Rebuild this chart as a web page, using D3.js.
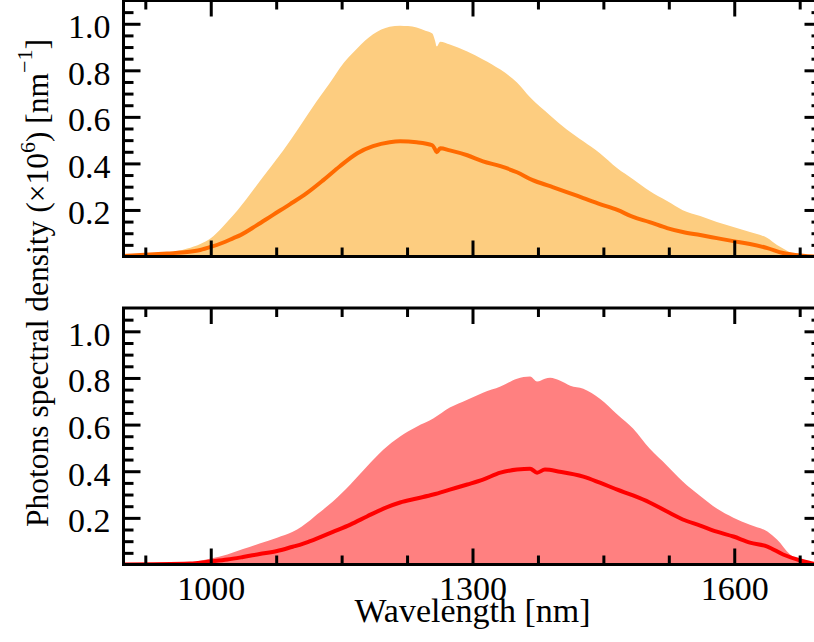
<!DOCTYPE html>
<html>
<head>
<meta charset="utf-8">
<script src="https://cdn.jsdelivr.net/npm/d3@7"></script>
<style>
  body { margin: 0; background: #fff; }
  svg { display: block; font-family: "Liberation Serif", "Times New Roman", serif; }
</style>
</head>
<body>
<svg id="chart" width="814" height="642"></svg>
<script>
// ---- data (wavelength in nm, density x1e6 per nm) ----
const topFillWl = [900, 925, 950, 973, 988, 1000, 1013, 1026, 1045, 1064, 1083, 1102, 1121, 1140, 1148, 1168, 1186, 1205, 1217, 1226, 1236, 1246, 1254, 1257, 1259, 1263, 1274, 1294, 1312, 1332, 1351, 1366, 1389, 1408, 1427, 1446, 1466, 1484, 1503, 1523, 1541, 1561, 1580, 1599, 1618, 1638, 1649, 1661, 1672, 1687, 1700];
const topFill   = [0.001, 0.004, 0.015, 0.034, 0.054, 0.078, 0.125, 0.178, 0.268, 0.362, 0.456, 0.559, 0.665, 0.765, 0.81, 0.895, 0.955, 0.987, 0.992, 0.99, 0.984, 0.97, 0.958, 0.928, 0.903, 0.923, 0.911, 0.881, 0.847, 0.803, 0.748, 0.684, 0.606, 0.546, 0.495, 0.444, 0.379, 0.332, 0.281, 0.238, 0.199, 0.174, 0.148, 0.127, 0.105, 0.079, 0.049, 0.024, 0.006, 0.0, 0.0];

const topLineWl = [900, 950, 973, 988, 1000, 1013, 1026, 1034, 1053, 1071, 1091, 1110, 1129, 1148, 1168, 1186, 1205, 1217, 1236, 1254, 1257, 1259, 1263, 1274, 1294, 1312, 1332, 1351, 1369, 1389, 1408, 1427, 1446, 1466, 1484, 1503, 1523, 1541, 1561, 1580, 1599, 1618, 1638, 1656, 1676, 1693, 1700];
const topLine   = [0.002, 0.013, 0.019, 0.028, 0.041, 0.058, 0.079, 0.092, 0.135, 0.178, 0.225, 0.272, 0.328, 0.388, 0.444, 0.474, 0.491, 0.495, 0.491, 0.478, 0.461, 0.448, 0.465, 0.456, 0.435, 0.409, 0.388, 0.362, 0.328, 0.302, 0.277, 0.251, 0.225, 0.2, 0.17, 0.148, 0.122, 0.105, 0.092, 0.079, 0.066, 0.054, 0.036, 0.015, 0.004, 0.0, 0.0];

const botFillWl = [900, 950, 976, 1000, 1019, 1037, 1056, 1076, 1094, 1114, 1122, 1140, 1160, 1179, 1198, 1217, 1236, 1255, 1274, 1294, 1312, 1332, 1351, 1366, 1374, 1383, 1389, 1400, 1412, 1427, 1446, 1466, 1484, 1503, 1523, 1541, 1561, 1580, 1599, 1618, 1638, 1649, 1664, 1676, 1687, 1700];
const botFill   = [0.0, 0.002, 0.009, 0.026, 0.043, 0.066, 0.09, 0.115, 0.14, 0.19, 0.215, 0.27, 0.343, 0.42, 0.493, 0.549, 0.591, 0.626, 0.673, 0.707, 0.737, 0.763, 0.797, 0.806, 0.785, 0.797, 0.801, 0.789, 0.767, 0.754, 0.711, 0.643, 0.583, 0.497, 0.424, 0.356, 0.294, 0.24, 0.201, 0.171, 0.141, 0.107, 0.043, 0.017, 0.002, 0.0];

const botLineWl = [900, 976, 1000, 1019, 1037, 1056, 1076, 1094, 1102, 1114, 1140, 1160, 1179, 1198, 1217, 1236, 1255, 1274, 1294, 1312, 1332, 1351, 1366, 1374, 1383, 1400, 1427, 1446, 1466, 1484, 1503, 1523, 1541, 1561, 1580, 1599, 1618, 1638, 1656, 1676, 1693, 1700];
const botLine   = [0.0, 0.004, 0.013, 0.021, 0.032, 0.045, 0.058, 0.076, 0.084, 0.1, 0.14, 0.171, 0.206, 0.24, 0.266, 0.283, 0.3, 0.321, 0.343, 0.364, 0.394, 0.407, 0.411, 0.394, 0.407, 0.398, 0.377, 0.351, 0.321, 0.296, 0.266, 0.227, 0.193, 0.167, 0.141, 0.12, 0.094, 0.077, 0.043, 0.017, 0.002, 0.0];

const xMajorTicks = [1000, 1300, 1600];
const xMinorTicks = [925, 1075, 1150, 1225, 1375, 1450, 1525, 1675];
const yMajorTicks = [0.2, 0.4, 0.6, 0.8, 1.0];
const yMinorTicks = [0.05, 0.1, 0.15, 0.25, 0.3, 0.35, 0.45, 0.5, 0.55, 0.65, 0.7, 0.75, 0.85, 0.9, 0.95, 1.05];

const svg = d3.select("#chart");
const x = d3.scaleLinear().domain([900, 1700]).range([123.5, 821.5]);

const panels = [
  { id: "top", fillWl: topFillWl, fill: topFill, lineWl: topLineWl, line: topLine,
    fillColor: "#fdcd80", lineColor: "#ff6a00", yRange: [256.5, 0.5], xLabels: false },
  { id: "bot", fillWl: botFillWl, fill: botFill, lineWl: botLineWl, line: botLine,
    fillColor: "#ff8080", lineColor: "#ff0000", yRange: [564.5, 308], xLabels: true }
];

panels.forEach(p => {
  const y = d3.scaleLinear().domain([0, 1.1]).range(p.yRange);
  const x0 = x.range()[0], x1 = x.range()[1];
  const yb = p.yRange[0], yt = p.yRange[1];

  svg.append("clipPath").attr("id", "clip-" + p.id)
    .append("rect").attr("x", x0).attr("y", yt).attr("width", x1 - x0).attr("height", yb - yt);

  const g = svg.append("g").attr("clip-path", `url(#clip-${p.id})`);

  const fillData = p.fillWl.map((w, i) => ({ wl: w, v: p.fill[i] }));
  const lineData = p.lineWl.map((w, i) => ({ wl: w, v: p.line[i] }));

  g.append("path").datum(fillData)
    .attr("fill", p.fillColor)
    .attr("d", d3.area().curve(d3.curveMonotoneX).x(d => x(d.wl)).y0(y(0)).y1(d => y(d.v)));

  g.append("path").datum(lineData)
    .attr("fill", "none")
    .attr("stroke", p.lineColor)
    .attr("stroke-width", 4)
    .attr("stroke-linejoin", "round")
    .attr("d", d3.line().curve(d3.curveMonotoneX).x(d => x(d.wl)).y(d => y(d.v)));

  // ticks, all pointing inward
  const addAxis = (axis, tx, ty) => {
    const a = svg.append("g").attr("transform", `translate(${tx},${ty})`).call(axis)
      .attr("font-family", null).attr("font-size", null);
    a.select(".domain").remove();
    a.selectAll(".tick line").attr("stroke", "#000").attr("stroke-width", 3);
    a.selectAll(".tick text").attr("fill", "#000").style("font-size", "34px");
    return a;
  };

  const xb = d3.axisBottom(x).tickValues(xMajorTicks).tickSize(-16).tickPadding(11)
    .tickFormat(p.xLabels ? d3.format("d") : "");
  addAxis(xb, 0, yb);
  addAxis(d3.axisBottom(x).tickValues(xMinorTicks).tickSize(-9).tickFormat(""), 0, yb);
  addAxis(d3.axisTop(x).tickValues(xMajorTicks).tickSize(-16).tickFormat(""), 0, yt);
  addAxis(d3.axisTop(x).tickValues(xMinorTicks).tickSize(-9).tickFormat(""), 0, yt);

  const yl = addAxis(d3.axisLeft(y).tickValues(yMajorTicks).tickSize(-17).tickPadding(13)
    .tickFormat(d3.format(".1f")), x0, 0);
  yl.selectAll(".tick text").attr("dy", "0.41em");
  addAxis(d3.axisLeft(y).tickValues(yMinorTicks).tickSize(-10).tickFormat(""), x0, 0);
  addAxis(d3.axisRight(y).tickValues(yMajorTicks).tickSize(-17).tickFormat(""), x1, 0);
  addAxis(d3.axisRight(y).tickValues(yMinorTicks).tickSize(-10).tickFormat(""), x1, 0);

  svg.append("rect")
    .attr("x", x0).attr("y", yt).attr("width", x1 - x0).attr("height", yb - yt)
    .attr("fill", "none").attr("stroke", "#000").attr("stroke-width", 3);
});

// axis titles
svg.append("text")
  .attr("x", 472.5).attr("y", 622)
  .attr("text-anchor", "middle")
  .style("font-size", "34px")
  .text("Wavelength [nm]");

const yt = svg.append("text")
  .attr("transform", "translate(48,283) rotate(-90)")
  .attr("text-anchor", "middle")
  .style("font-size", "31.5px");
yt.append("tspan").text("Photons spectral density (×10");
yt.append("tspan").attr("dy", -13).style("font-size", "22px").text("6");
yt.append("tspan").attr("dy", 13).text(") [nm");
yt.append("tspan").attr("dy", -16).style("font-size", "22px").text("−1");
yt.append("tspan").attr("dy", 16).text("]");
</script>
</body>
</html>
